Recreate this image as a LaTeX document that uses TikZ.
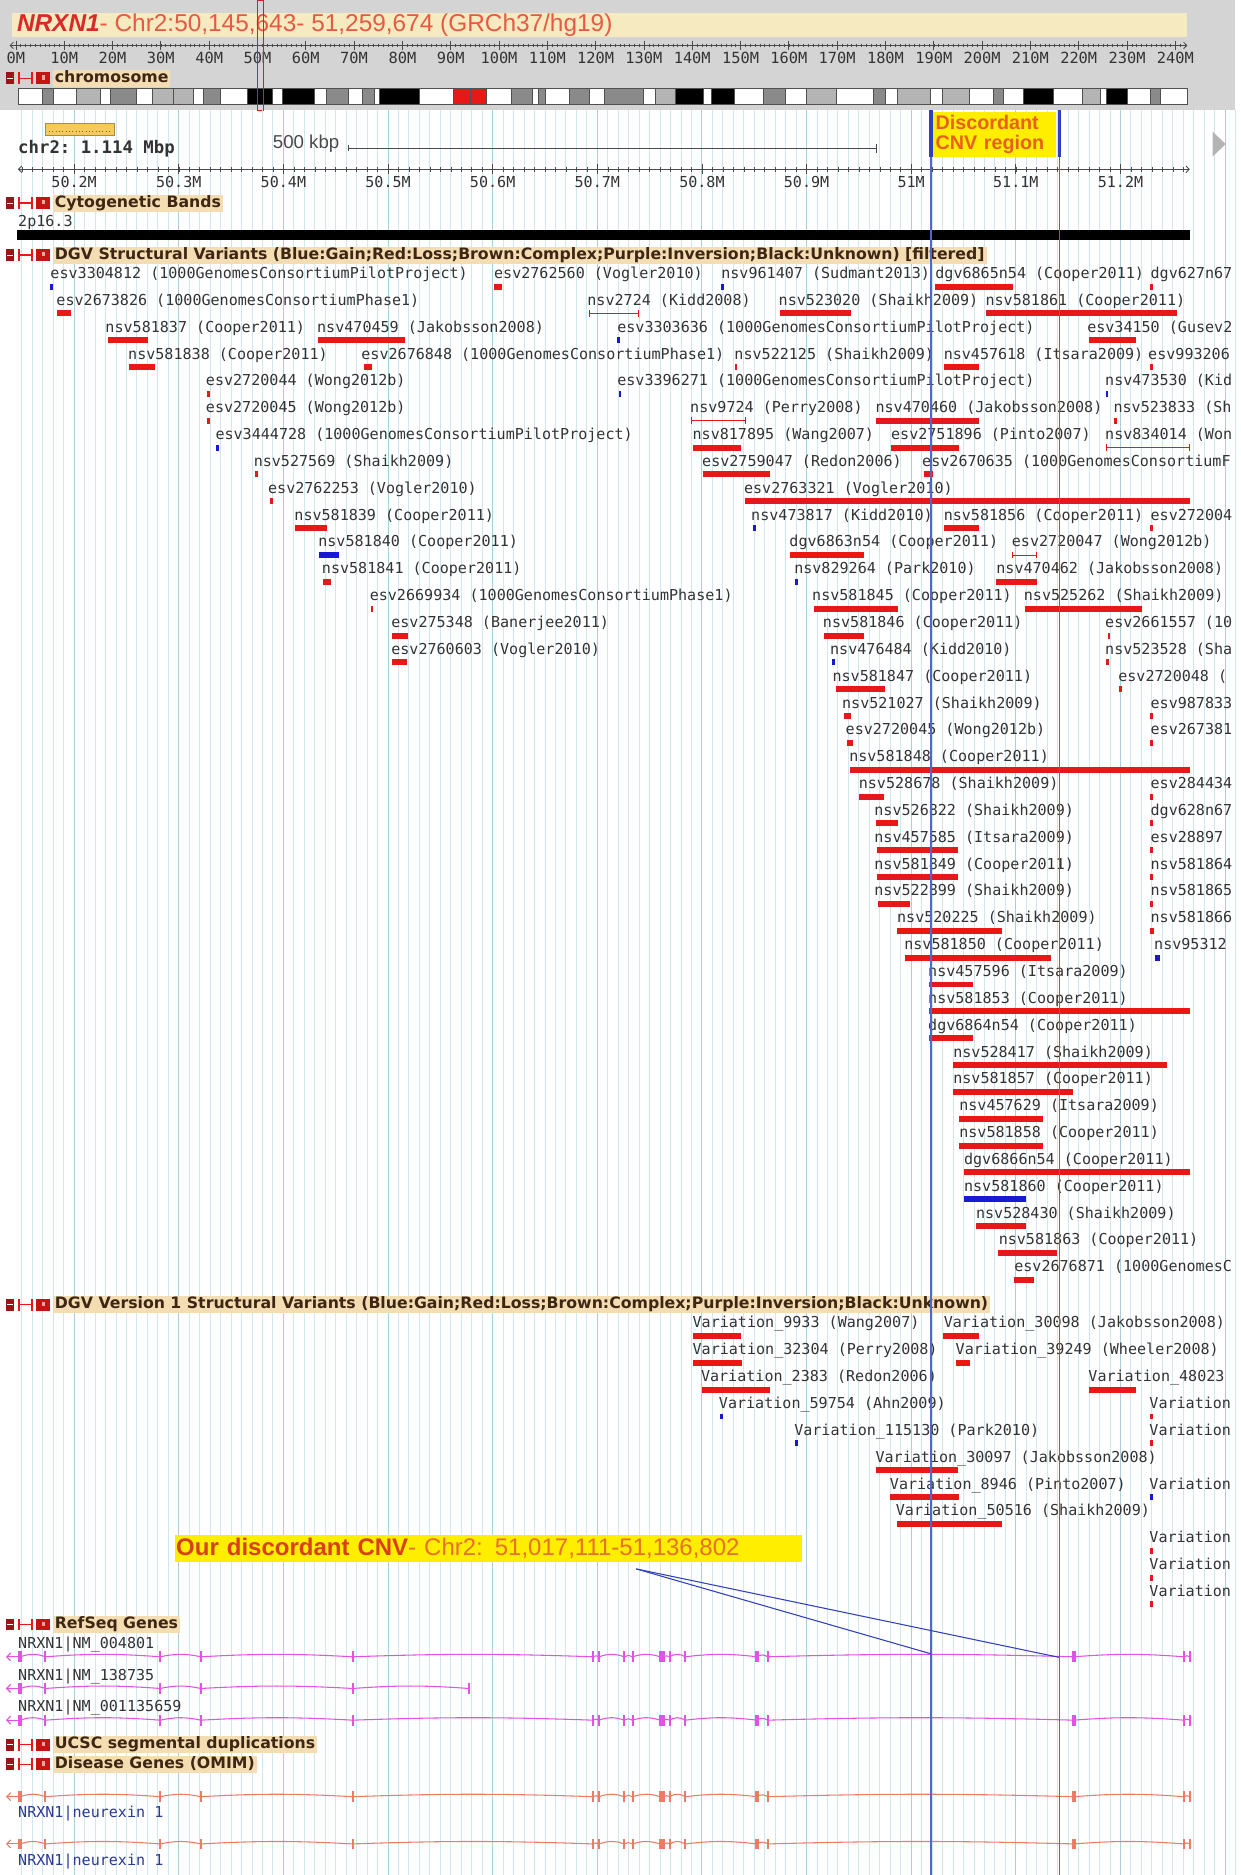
\documentclass[tikz,border=0pt]{standalone}
\usepackage{fontspec}
\setmainfont{Liberation Sans}
\setmonofont{DejaVu Sans Mono}
\newfontfamily\trackfont{DejaVu Sans}
\usepackage{tikz}
\usetikzlibrary{
  arrows.meta,
  positioning,
  calc
}
\usepackage{xcolor}
\definecolor{gbpanel}{HTML}{D4D4D4}
\definecolor{gbtitle}{HTML}{F6EBC0}
\definecolor{gbbeige}{HTML}{F4DDB2}
\definecolor{gbhead}{HTML}{3D2714}
\definecolor{gbgrid}{HTML}{CFE7EF}
\definecolor{gbgridd}{HTML}{A9CEDC}
\definecolor{gbred}{HTML}{E81818}
\definecolor{gbblue}{HTML}{1818D6}
\definecolor{gbmark}{HTML}{5068C8}
\definecolor{gbmarkd}{HTML}{3040C0}
\definecolor{gbmagenta}{HTML}{E452E4}
\definecolor{gbsalmon}{HTML}{F07A66}
\definecolor{gbtext}{HTML}{333333}
\definecolor{gbruler}{HTML}{4A4A4A}
\definecolor{gborange}{HTML}{E8601C}
\definecolor{gbyellow}{HTML}{FFEE00}
\definecolor{gbdarkred}{HTML}{9C1414}
\definecolor{gbomim}{HTML}{2A3A96}
\definecolor{gbtitlered}{HTML}{D92A2A}
\definecolor{gbtitlelight}{HTML}{E65A44}
\definecolor{gbcnvdark}{HTML}{D8401A}
\definecolor{gbcnvlight}{HTML}{E8702A}
\definecolor{gbband}{HTML}{8A8A8A}
\definecolor{gbbandl}{HTML}{B4B4B4}
\definecolor{gbideo}{HTML}{505050}
\definecolor{gbminibox}{HTML}{F5C95A}
\definecolor{gbarrowgray}{HTML}{B4B4B4}

\begin{document}
\begin{tikzpicture}[
  x=0.8968pt, y=-0.8968pt,
  every node/.style={inner sep=0pt},
  trackhead/.style={anchor=west, fill=gbbeige, text=gbhead, inner xsep=1.5pt, inner ysep=0.6pt,
    text height=9pt, text depth=2.6pt, font=\trackfont\bfseries\fontsize{11.8}{13}\selectfont},
  svlabel/.style={anchor=base west, text=gbtext, font=\ttfamily\fontsize{11.3}{13}\selectfont},
  ticklabel/.style={anchor=base, text=gbtext, font=\ttfamily\fontsize{11.3}{13}\selectfont},
  bar-r/.style={fill=gbred},
  bar-b/.style={fill=gbblue},
  spanline/.style={draw=gbred, line width=0.7pt, arrows={Bar[width=5pt]-Bar[width=5pt]}},
  rulerline/.style={draw=gbruler, line width=0.6pt,
    arrows={Straight Barb[length=2.5pt,width=5pt]-Straight Barb[length=2.5pt,width=5pt]}},
  cutline/.style={draw=gbmark, line width=1.1pt},
  cnvlink/.style={draw=gbmarkd, line width=0.8pt},
  gridfine/.style={draw=gbgrid, line width=0.7pt},
  gridbold/.style={draw=gbgridd, line width=0.8pt},
  exonline/.style={line width=0.8pt},
  pics/trackicons/.style={code={
    \fill[gbdarkred] (-39,-5) rectangle (-32.5,5);
    \draw[white, line width=0.8pt] (-38,0) -- (-33.5,0);
    \draw[gbred, line width=1.2pt] (-28,-5) -- (-28,5) (-28,0) -- (-17,0) (-17,-5) -- (-17,5);
    \fill[gbred!85!black] (-13.5,-5) rectangle (-2,5);
    \fill[gbred!40!white] (-9,-2.5) rectangle (-6.5,1);
  }}
]

  % page and top panel
  \useasboundingbox (0,0) rectangle (1037,1568);
  \fill[white] (0,0) rectangle (1037,1568);
  \fill[gbpanel] (0,0) rectangle (1033,92);
  \fill[gbtitle] (10,11) rectangle (993,31);
  \node[anchor=west, font=\fontsize{18.3}{20}\selectfont, text=gbtitlelight] (title) at (14,21)
    {\textcolor{gbtitlered}{\bfseries\itshape NRXN1}- Chr2:50,145,643- 51,259,674 (GRCh37/hg19)};

  % genome ruler
  \draw[rulerline] (8,38) -- (993,38);
  \foreach \k in {0,...,242}
    \draw[gbruler, line width=0.4pt] ({13.3+4.04*\k},36.5) -- ({13.3+4.04*\k},39.5);
  \foreach \k in {0,...,24} {
    \pgfmathtruncatemacro\mlab{10*\k}
    \draw[gbruler, line width=0.6pt] ({13.3+40.4*\k},34) -- ({13.3+40.4*\k},42);
    \node[ticklabel, font=\ttfamily\fontsize{11.5}{13}\selectfont] (chrtick-\k) at ({13.3+40.4*\k},53) {\mlab M};
  }

  % chromosome ideogram
  \pic at (44,65.5) {trackicons};
  \node[trackhead] (hchrom) at (44,65.5) {chromosome};
  \foreach \a/\b/\c in {15/35/white, 35/45/gbband, 45/64/white, 64/84/gbbandl, 84/92/white,
      92/114/gbband, 114/127/white, 127/145/gbbandl, 145/162/gbbandl, 162/170/white,
      170/184/gbband, 184/207/white, 207/228/black, 228/236/white, 236/263/black,
      263/273/white, 273/291/gbband, 291/303/white, 303/313/gbband, 313/317/white,
      317/351/black, 351/379/white, 379/393/gbred, 393/407/gbred, 407/428/white,
      428/445/gbband, 445/450/white, 450/456/gbband, 456/476/white, 476/493/gbband,
      493/505/white, 505/538/gbband, 538/548/white, 548/565/gbbandl, 565/588/black,
      588/595/white, 595/614/black, 614/638/white, 638/657/gbband, 657/674/white,
      674/699/gbbandl, 699/730/white, 730/740/gbband, 740/750/white, 750/778/gbbandl,
      778/788/white, 788/811/gbbandl, 811/831/white, 831/839/gbband, 839/856/white,
      856/881/black, 881/905/white, 905/920/gbbandl, 920/925/white, 925/943/black,
      943/962/white, 962/970/gbband, 970/993/white}
    \filldraw[fill=\c, draw=gbideo, line width=0.5pt] (\a,74) rectangle (\b,87.5);
  \draw[gbred, line width=0.5pt] (215.5,0) rectangle (220,92);

  % base grid
  \foreach \k in {-5,...,111}
    \draw[gridfine] ({62+8.75*\k},92) -- ({62+8.75*\k},1568);
  \foreach \k in {0,...,11}
    \draw[gridbold] ({62+87.5*\k},92) -- ({62+87.5*\k},1568);

  % scale and position ruler
  \filldraw[fill=gbminibox, draw=gbminibox!70!black, line width=0.5pt] (38,103) rectangle (96,113);
  \draw[gbminibox!50!black, line width=0.5pt, dotted] (41,110) -- (93,110);
  \node[anchor=west, font=\ttfamily\bfseries\fontsize{13}{15}\selectfont, text=gbtext] (span) at (15,124) {chr2: 1.114 Mbp};
  \node[anchor=west, font=\fontsize{14}{16}\selectfont, text=gbruler] (kbp) at (228,120) {500 kbp};
  \coordinate (kbp-l) at (291,124);
  \coordinate (kbp-r) at (732.5,124);
  \draw[gbruler, line width=0.6pt] (kbp-l) -- (kbp-r);
  \draw[gbruler, line width=0.6pt] ($(kbp-l)+(0,-2.5)$) -- ($(kbp-l)+(0,2.5)$)
    ($(kbp-r)+(0,-4)$) -- ($(kbp-r)+(0,4)$);
  \draw[rulerline] (15,141.5) -- (995,141.5);
  \foreach \k in {-5,...,106}
    \draw[gbruler, line width=0.4pt] ({62+8.75*\k},139.5) -- ({62+8.75*\k},143.5);
  \foreach \k/\plab in {0/50.2M, 1/50.3M, 2/50.4M, 3/50.5M, 4/50.6M, 5/50.7M,
      6/50.8M, 7/50.9M, 8/51M, 9/51.1M, 10/51.2M} {
    \draw[gbruler, line width=0.6pt] ({62+87.5*\k},137.5) -- ({62+87.5*\k},145.5);
    \node[ticklabel] (postick-\k) at ({62+87.5*\k},156.5) {\plab};
  }

  % discordant CNV region
  \node[anchor=north west, fill=gbyellow, text=gborange, align=left, text width=88pt, inner xsep=2pt,
    minimum height=33.6pt, font=\bfseries\fontsize{14.8}{15.5}\selectfont] (cnvregion) at (780,93.5)
    {Discordant\\CNV region};
  \fill[gbarrowgray] (1014,110) -- (1025,120.5) -- (1014,131) -- cycle;

  % cytogenetic bands
  \pic at (44,170) {trackicons};
  \node[trackhead] (hcyto) at (44,170) {Cytogenetic Bands};
  \node[svlabel] (band) at (15,189.5) {2p16.3};
  \fill[black] (14,192.5) rectangle (995,200.5);

  % DGV structural variants
  \pic at (44,213.3) {trackicons};
  \node[trackhead] (hdgv) at (44,213.3)
    {DGV Structural Variants (Blue:Gain;Red:Loss;Brown:Complex;Purple:Inversion;Black:Unknown) [filtered]};
  \foreach \row/\tx/\bx/\ex/\kind/\svname in {
      0/42/42/44.5/b/esv3304812 (1000GenomesConsortiumPilotProject),
      0/413/413/420/r/esv2762560 (Vogler2010),
      0/603/603/605.5/b/nsv961407 (Sudmant2013),
      0/782/781.5/847.5/r/dgv6865n54 (Cooper2011),
      0/962/962/964/r/dgv627n67,
      1/47/48/59.5/r/esv2673826 (1000GenomesConsortiumPhase1),
      1/491/492.7/534.4/s/nsv2724 (Kidd2008),
      1/651/652.4/712/r/nsv523020 (Shaikh2009),
      1/824/824.4/984/r/nsv581861 (Cooper2011),
      2/88/90/124/r/nsv581837 (Cooper2011),
      2/265/266/339/r/nsv470459 (Jakobsson2008),
      2/516/516/518.5/b/esv3303636 (1000GenomesConsortiumPilotProject),
      2/909/910.4/950/r/esv34150 (Gusev2,
      3/107/107.5/129.6/r/nsv581838 (Cooper2011),
      3/302/304/311/r/esv2676848 (1000GenomesConsortiumPhase1),
      3/614/614.5/616.5/r/nsv522125 (Shaikh2009),
      3/789/789.7/818.8/r/nsv457618 (Itsara2009),
      3/960/962/964/r/esv993206,
      4/172/173.5/175.5/r/esv2720044 (Wong2012b),
      4/516/517.5/519.5/b/esv3396271 (1000GenomesConsortiumPilotProject),
      4/924/924.5/926.5/b/nsv473530 (Kid,
      5/172/173.5/175.5/r/esv2720045 (Wong2012b),
      5/577/578/623.7/s/nsv9724 (Perry2008),
      5/732/732.8/818.8/r/nsv470460 (Jakobsson2008),
      5/931/932/934/r/nsv523833 (Sh,
      6/180/181/183/b/esv3444728 (1000GenomesConsortiumPilotProject),
      6/579/579.7/619.4/r/nsv817895 (Wang2007),
      6/745/745/802/r/esv2751896 (Pinto2007),
      6/924/924.6/994.7/s/nsv834014 (Won,
      7/212/213/215.5/r/nsv527569 (Shaikh2009),
      7/587/588/644/r/esv2759047 (Redon2006),
      7/771/773/780/r/esv2670635 (1000GenomesConsortiumF,
      8/224/226/228.5/r/esv2762253 (Vogler2010),
      8/622/622.7/995/r/esv2763321 (Vogler2010),
      9/246/246.7/273.8/r/nsv581839 (Cooper2011),
      9/628/630/632.5/b/nsv473817 (Kidd2010),
      9/789/789.6/818.8/r/nsv581856 (Cooper2011),
      9/962/962/964.5/r/esv272004,
      10/266/267/283.7/b/nsv581840 (Cooper2011),
      10/660/660.7/722.5/r/dgv6863n54 (Cooper2011),
      10/846/846/867.4/s/esv2720047 (Wong2012b),
      11/269/270.5/277/r/nsv581841 (Cooper2011),
      11/664/664.7/667/b/nsv829264 (Park2010),
      11/833/833.3/867.4/r/nsv470462 (Jakobsson2008),
      12/309/310/312/r/esv2669934 (1000GenomesConsortiumPhase1),
      12/679/680.5/751/r/nsv581845 (Cooper2011),
      12/856/857.5/955/r/nsv525262 (Shaikh2009),
      13/327/327.4/341.3/r/esv275348 (Banerjee2011),
      13/688/688.8/722.5/r/nsv581846 (Cooper2011),
      13/924/926.5/928.5/r/esv2661557 (10,
      14/327/327.4/340/r/esv2760603 (Vogler2010),
      14/694/696/698/b/nsv476484 (Kidd2010),
      14/924/925/927/r/nsv523528 (Sha,
      15/696/698.7/740/r/nsv581847 (Cooper2011),
      15/935/936/938/r/esv2720048 (,
      16/704/706/712/r/nsv521027 (Shaikh2009),
      16/962/962/964/r/esv987833,
      17/707/708.6/713.6/r/esv2720045 (Wong2012b),
      17/962/962/964/r/esv267381,
      18/710/711/995/r/nsv581848 (Cooper2011),
      19/718/718.6/739.4/r/nsv528678 (Shaikh2009),
      19/962/962/964/r/esv284434,
      20/731/732.8/751/r/nsv526822 (Shaikh2009),
      20/962/962/964/r/dgv628n67,
      21/731/733/801/r/nsv457585 (Itsara2009),
      21/962/962/964/r/esv28897,
      22/731/733/801/r/nsv581849 (Cooper2011),
      22/962/962/964/r/nsv581864,
      23/731/734/761/r/nsv522899 (Shaikh2009),
      23/962/962/964/r/nsv581865,
      24/750/750/837.6/r/nsv520225 (Shaikh2009),
      24/962/962/965/r/nsv581866,
      25/756/757/879/r/nsv581850 (Cooper2011),
      25/965/966/970/b/nsv95312,
      26/776/777/813.5/r/nsv457596 (Itsara2009),
      27/776/777/995/r/nsv581853 (Cooper2011),
      28/776/777/813.5/r/dgv6864n54 (Cooper2011),
      29/797/797/975.5/r/nsv528417 (Shaikh2009),
      30/797/797/897/r/nsv581857 (Cooper2011),
      31/802/802/872/r/nsv457629 (Itsara2009),
      32/802/802/872/r/nsv581858 (Cooper2011),
      33/806/806/995/r/dgv6866n54 (Cooper2011),
      34/806/806/858/b/nsv581860 (Cooper2011),
      35/816/816/858/r/nsv528430 (Shaikh2009),
      36/835/835/884/r/nsv581863 (Cooper2011),
      37/848/848/865/r/esv2676871 (1000GenomesC} {
    \pgfmathsetmacro\ty{228.4+22.45*\row}
    \node[svlabel] (sv-\row-\tx) at (\tx,\ty+4.5) {\svname};
    \if\kind s
      \draw[spanline] (\bx,\ty+11.2) -- (\ex,\ty+11.2);
    \else
      \fill[bar-\kind] (\bx,\ty+8.7) rectangle (\ex,\ty+13.7);
    \fi
  }

  % DGV version 1
  \pic at (44,1091) {trackicons};
  \node[trackhead] (hdgvone) at (44,1091)
    {DGV Version 1 Structural Variants (Blue:Gain;Red:Loss;Brown:Complex;Purple:Inversion;Black:Unknown)};
  \foreach \row/\tx/\bx/\ex/\kind/\svname in {
      0/579/579.7/619.4/r/Variation\_9933 (Wang2007),
      0/789/789/818.8/r/Variation\_30098 (Jakobsson2008),
      1/579/579.7/620.4/r/Variation\_32304 (Perry2008),
      1/799/799.6/811/r/Variation\_39249 (Wheeler2008),
      2/586/587.3/644/r/Variation\_2383 (Redon2006),
      2/910/910.4/950/r/Variation\_48023,
      3/601/602/604.5/b/Variation\_59754 (Ahn2009),
      3/961/962/964/r/Variation,
      4/664/664.7/667/b/Variation\_115130 (Park2010),
      4/961/962/964/r/Variation,
      5/732/732.8/801/r/Variation\_30097 (Jakobsson2008),
      6/744/744.4/802/r/Variation\_8946 (Pinto2007),
      6/961/962/964/b/Variation,
      7/749/750/837.6/r/Variation\_50516 (Shaikh2009),
      8/961/962/964/r/Variation,
      9/961/962/964/r/Variation,
      10/961/962/964/r/Variation} {
    \pgfmathsetmacro\ty{1106+22.45*\row}
    \node[svlabel] (vone-\row-\tx) at (\tx,\ty+4.5) {\svname};
    \fill[bar-\kind] (\bx,\ty+8.7) rectangle (\ex,\ty+13.7);
  }

  % our discordant CNV
  \node[anchor=west, fill=gbyellow, text width=468pt, inner xsep=1pt, align=left, minimum height=19.7pt,
    font=\fontsize{18}{20}\selectfont, text=gbcnvlight] (cnvlabel) at (146,1295)
    {\textcolor{gbcnvdark}{\bfseries Our discordant CNV}- Chr2: 51,017,111-51,136,802};

  % RefSeq genes
  \pic at (44,1358.5) {trackicons};
  \node[trackhead] (hrefseq) at (44,1358.5) {RefSeq Genes};
  \node[svlabel] (nm004801) at (15,1378.5) {NRXN1|NM\_004801};
  \node[svlabel] (nm138735) at (15,1405.5) {NRXN1|NM\_138735};
  \node[svlabel] (nm001135659) at (15,1431.5) {NRXN1|NM\_001135659};
  \foreach \gy/\gc in {1385.5/gbmagenta, 1438.5/gbmagenta, 1502.5/gbsalmon, 1542/gbsalmon} {
    \draw[\gc, exonline, -{Straight Barb[length=3pt,width=6pt]}] (17,\gy) -- (5,\gy);
    \foreach \e [remember=\e as \prevx (initially 17)] in {38,134,168,295,496,501,522,529,552,555,560,573,633,642,898,990,995} {
      \pgfmathsetmacro\bend{min(35,asin(min(1,7/(\e-\prevx))))}
      \draw[\gc, exonline] (\prevx,\gy) to[bend left=\bend] (\e,\gy);
    }
    \foreach \e/\w in {17/3.5,38/1.6,134/1.6,168/1.6,295/1.6,496/1.6,501/1.6,522/1.6,529/1.6,
        552/2.6,555/2.6,560/1.6,573/1.6,633/3.5,642/1.6,898/3.5,990/1.6,995/1.6}
      \fill[\gc] (\e-\w/2,\gy-4.5) rectangle (\e+\w/2,\gy+4.5);
  }
  \draw[gbmagenta, exonline, -{Straight Barb[length=3pt,width=6pt]}] (17,1412) -- (5,1412);
  \foreach \e [remember=\e as \prevx (initially 17)] in {38,134,168,295,392} {
    \pgfmathsetmacro\bend{min(35,asin(min(1,7/(\e-\prevx))))}
    \draw[gbmagenta, exonline] (\prevx,1412) to[bend left=\bend] (\e,1412);
  }
  \foreach \e/\w in {17/3.5,38/1.6,134/1.6,168/1.6,295/1.6,392/1.6}
    \fill[gbmagenta] (\e-\w/2,1407.5) rectangle (\e+\w/2,1416.5);

  % segmental duplications and OMIM
  \pic at (44,1459) {trackicons};
  \node[trackhead] (hsegdup) at (44,1459) {UCSC segmental duplications};
  \pic at (44,1475.5) {trackicons};
  \node[trackhead] (homim) at (44,1475.5) {Disease Genes (OMIM)};
  \node[svlabel, text=gbomim] (omim-a) at (15,1519.5) {NRXN1|neurexin 1};
  \node[svlabel, text=gbomim] (omim-b) at (15,1560) {NRXN1|neurexin 1};

  % cut lines and links
  \coordinate (lcut-top) at (778.5,92);
  \coordinate (lcut-knee) at (778.5,131);
  \coordinate (lcut-bot) at (778.5,1568);
  \coordinate (rcut-top) at (885.8,92);
  \coordinate (rcut-knee) at (885.8,131);
  \coordinate (rcut-bot) at (885.8,1568);
  \draw[cutline] (lcut-top) -- (lcut-bot);
  \draw[cutline] (rcut-top) -- (rcut-bot);
  \draw[cutline, draw=gbmarkd, line width=2.4pt] (lcut-top) -- (lcut-knee);
  \draw[cutline, draw=gbmarkd, line width=2.4pt] (rcut-top) -- (rcut-knee);
  \coordinate (cnvfoot) at (532,1312);
  \coordinate (lcut-gene) at (778.5,1383);
  \coordinate (rcut-gene) at (885.8,1386);
  \draw[cnvlink] (cnvfoot) -- (lcut-gene);
  \draw[cnvlink] (cnvfoot) -- (rcut-gene);

\end{tikzpicture}
\end{document}
